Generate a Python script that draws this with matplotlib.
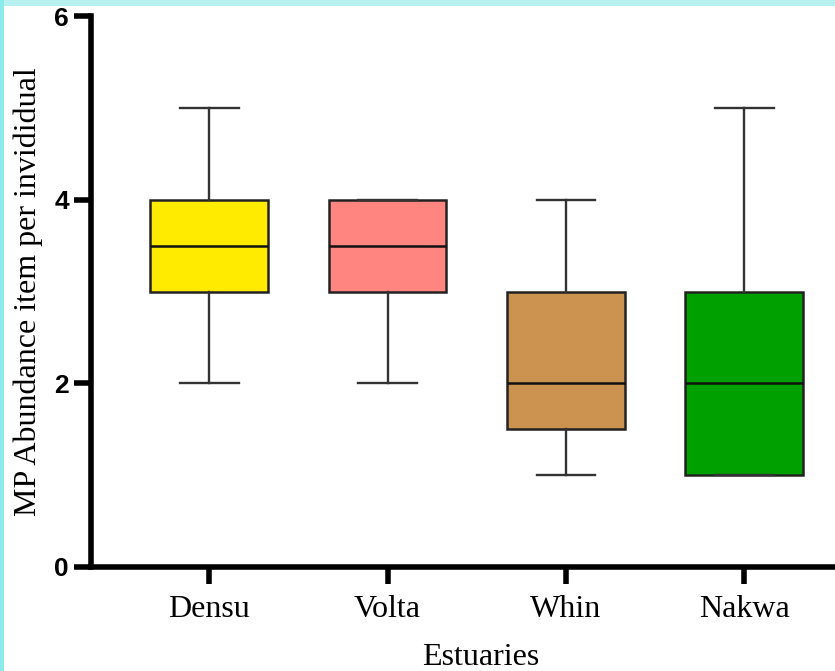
import matplotlib
matplotlib.use("Agg")
import matplotlib.pyplot as plt
from matplotlib.patches import Rectangle

# box summary values
estuaries = ["Densu", "Volta", "Whin", "Nakwa"]
whisk_lo = [2, 2, 1, 1]
q1 = [3, 3, 1.5, 1]
median = [3.5, 3.5, 2, 2]
q3 = [4, 4, 3, 3]
whisk_hi = [5, 4, 4, 5]
colors = ["#FFEB00", "#FF8580", "#CB934F", "#00A000"]

fig = plt.figure(figsize=(8.35, 6.71), dpi=100)
ax = fig.add_axes([91 / 835, 104 / 671, 780 / 835, 551 / 671])

stats = []
for i in range(len(estuaries)):
    stats.append({"label": estuaries[i], "whislo": whisk_lo[i], "q1": q1[i],
                  "med": median[i], "q3": q3[i], "whishi": whisk_hi[i], "fliers": []})

bp = ax.bxp(stats, positions=range(1, 5), widths=0.66, patch_artist=True,
            showfliers=False,
            boxprops=dict(edgecolor="#222222", linewidth=1.8),
            medianprops=dict(color="#111111", linewidth=1.8),
            whiskerprops=dict(color="#333333", linewidth=1.7),
            capprops=dict(color="#333333", linewidth=1.7),
            capwidths=0.33)
for patch, c in zip(bp["boxes"], colors):
    patch.set_facecolor(c)

ax.set_xlim(0.337, 4.71)
ax.set_ylim(0, 6)
ax.set_yticks([0, 2, 4, 6])
ax.spines["top"].set_visible(False)
ax.spines["right"].set_visible(False)
for s in ["left", "bottom"]:
    ax.spines[s].set_linewidth(4)
ax.tick_params(axis="both", width=4, length=12, direction="out")
ax.tick_params(axis="y", pad=4)
ax.tick_params(axis="x", pad=8)
for t in ax.get_yticklabels():
    t.set_fontfamily("Liberation Sans")
    t.set_fontweight("bold")
    t.set_fontsize(19)
ax.set_xticklabels(estuaries, fontfamily="Liberation Serif", fontsize=23)
ax.set_xlabel("Estuaries", fontfamily="Liberation Serif", fontsize=23, labelpad=14)
ax.set_ylabel("MP Abundance item per invididual", fontfamily="Liberation Serif",
              fontsize=23, labelpad=8)

# light cyan frame along top and left edges
fig.patches.append(Rectangle((0, 1 - 6 / 671), 1, 6 / 671, transform=fig.transFigure,
                             facecolor="#B6F0F0", edgecolor="none"))
fig.patches.append(Rectangle((0, 0), 4 / 835, 1, transform=fig.transFigure,
                             facecolor="#8CEAEA", edgecolor="none"))

fig.savefig("out.png", dpi=100)
